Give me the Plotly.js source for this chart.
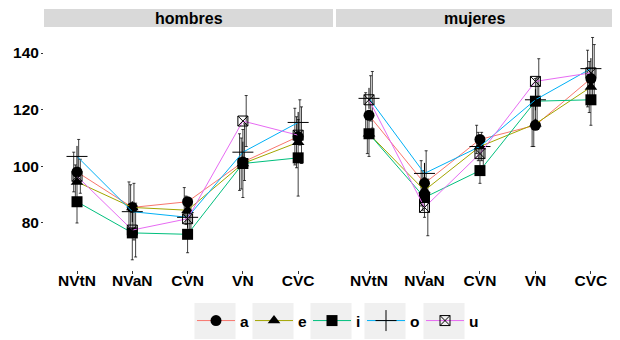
<!DOCTYPE html>
<html>
<head>
<meta charset="utf-8">
<script src="https://cdn.plot.ly/plotly-3.0.1.min.js"></script>
<style>
  html, body { margin: 0; padding: 0; background: #ffffff; }
  #chart { width: 620px; height: 340px; }
</style>
</head>
<body>
<div id="chart"></div>
<script>
// Contexts on the x axis and the two facets
const categories = ["NVtN", "NVaN", "CVN", "VN", "CVC"];
const facets = ["hombres", "mujeres"];
const vowels = ["a", "e", "i", "o", "u"];

// Mean values per vowel (hombres)
const hombres_a = [98, 85.5, 87.5, 101.5, 110.5];
const hombres_e = [94.5, 85.5, 84.5, 101, 108.5];
const hombres_i = [87.5, 76.5, 76, 101, 103];
const hombres_o = [103.5, 84, 82, 105, 115.5];
const hombres_u = [96.5, 77.5, 81.5, 116, 111];

// Error half-widths per vowel (hombres)
const hombres_a_err = [7, 9, 5, 10, 10];
const hombres_e_err = [6, 8, 5, 9, 9];
const hombres_i_err = [7.5, 9.5, 6.5, 12, 13.5];
const hombres_o_err = [6, 10, 6, 10, 8];
const hombres_u_err = [6, 9.5, 5, 9, 10];

// Mean values per vowel (mujeres)
const mujeres_a = [118, 94, 109.5, 114.5, 131];
const mujeres_e = [111.5, 91.5, 107, 115, 128];
const mujeres_i = [111.5, 89, 98.5, 123, 123.5];
const mujeres_o = [124, 97.5, 107, 123.5, 134.5];
const mujeres_u = [123.5, 85.5, 104.5, 130, 133];

// Error half-widths per vowel (mujeres)
const mujeres_a_err = [8, 8, 5, 7.5, 10];
const mujeres_e_err = [7, 7, 5, 8, 9];
const mujeres_i_err = [8, 7, 4.5, 8, 9];
const mujeres_o_err = [8, 8, 5, 8, 11];
const mujeres_u_err = [10, 10, 5, 8, 10];

const yTicks = [80, 100, 120, 140];

const means = {
  hombres: [hombres_a, hombres_e, hombres_i, hombres_o, hombres_u],
  mujeres: [mujeres_a, mujeres_e, mujeres_i, mujeres_o, mujeres_u]
};
const errs = {
  hombres: [hombres_a_err, hombres_e_err, hombres_i_err, hombres_o_err, hombres_u_err],
  mujeres: [mujeres_a_err, mujeres_e_err, mujeres_i_err, mujeres_o_err, mujeres_u_err]
};

const colors = ["#F8766D", "#A3A500", "#00BF7D", "#00B0F6", "#E76BF3"];
const markerStyle = [
  { symbol: "circle", size: 11, color: "#000000", line: { width: 0 } },
  { symbol: "triangle-up", size: 11, color: "#000000", line: { width: 0 } },
  { symbol: "square", size: 11, color: "#000000", line: { width: 0 } },
  { symbol: "cross-thin", size: 15, color: "#000000", line: { width: 1, color: "#000000" } },
  { symbol: "square-x-open", size: 10, color: "#000000", line: { width: 1, color: "#000000" } }
];
const dodge = [-0.06, -0.03, 0, 0.03, 0.06];
const xPos = categories.map((c, i) => i + 1);
const legendIds = ["legend", "legend2", "legend3", "legend4", "legend5"];

const traces = [];
facets.forEach((f, fi) => {
  const xa = fi === 0 ? "x" : "x2";
  const ya = fi === 0 ? "y" : "y2";
  // error bars, slightly dodged per vowel
  vowels.forEach((v, vi) => {
    traces.push({
      type: "scatter", mode: "markers", xaxis: xa, yaxis: ya,
      x: xPos.map(x => x + dodge[vi]), y: means[f][vi],
      marker: { opacity: 0, size: 1 },
      error_y: { type: "data", array: errs[f][vi], visible: true,
                 color: "rgba(0,0,0,0.75)", thickness: 1, width: 1.5 },
      showlegend: false, hoverinfo: "skip"
    });
  });
});
facets.forEach((f, fi) => {
  const xa = fi === 0 ? "x" : "x2";
  const ya = fi === 0 ? "y" : "y2";
  vowels.forEach((v, vi) => {
    traces.push({
      type: "scatter", mode: "lines+markers", xaxis: xa, yaxis: ya,
      x: xPos, y: means[f][vi], name: v, legendgroup: v, legend: legendIds[vi],
      line: { color: colors[vi], width: 1 },
      marker: markerStyle[vi],
      showlegend: fi === 0
    });
  });
});

const W = 620, H = 340;
const px = v => v / W;
const py = v => 1 - v / H;
const panelTop = 27, panelBottom = 270;
const panels = [[44, 333], [336, 612]];

const font = { family: "Liberation Sans, Arial, sans-serif", size: 15.5, color: "#000000", weight: "bold" };

const xAxisBase = {
  tickvals: xPos, ticktext: categories, showgrid: false, zeroline: false, showline: false,
  ticks: "outside", ticklen: 3, tickcolor: "#333333", tickwidth: 1,
  tickfont: font, ticklabelstandoff: -7
};
const yAxisBase = {
  range: [63.4, 149.2], tickvals: yTicks, showgrid: false, zeroline: false, showline: false,
  ticks: "outside", ticklen: 2, tickcolor: "#333333", tickwidth: 1, tickfont: font,
  ticklabelstandoff: -1,
  domain: [py(panelBottom), py(panelTop)]
};

const shapes = [];
const annotations = [];
panels.forEach((p, i) => {
  shapes.push({ type: "rect", xref: "paper", yref: "paper", x0: px(p[0]), x1: px(p[1]),
                y0: py(27), y1: py(9), fillcolor: "#D9D9D9", line: { width: 0 }, layer: "below" });
  annotations.push({ xref: "paper", yref: "paper", x: px((p[0] + p[1]) / 2), y: py(18),
                     text: facets[i], showarrow: false, font: { ...font, size: 16 },
                     xanchor: "center", yanchor: "middle" });
});

// one legend per key, each with a light grey key background
const keyCentres = [215, 273, 331, 385, 444];
const layout = {
  width: W, height: H,
  margin: { l: 0, r: 0, t: 0, b: 0 },
  paper_bgcolor: "#ffffff", plot_bgcolor: "rgba(0,0,0,0)",
  font: font,
  xaxis: { ...xAxisBase, domain: [px(panels[0][0]), px(panels[0][1])], range: [0.403, 5.63], anchor: "y" },
  xaxis2: { ...xAxisBase, domain: [px(panels[1][0]), px(panels[1][1])], range: [0.405, 5.38], anchor: "y2" },
  yaxis: { ...yAxisBase, anchor: "x" },
  yaxis2: { ...yAxisBase, anchor: "x2", showticklabels: false, ticks: "" },
  showlegend: true,
  shapes: shapes,
  annotations: annotations
};
keyCentres.forEach((c, i) => {
  shapes.push({ type: "rect", xref: "paper", yref: "paper", x0: px(c - 20.5), x1: px(c + 20.5),
                y0: py(339), y1: py(303), fillcolor: "#F0F0F0", line: { width: 0 }, layer: "below" });
  layout[legendIds[i]] = {
    orientation: "h", x: px(c - 23), xanchor: "left", y: py(321), yanchor: "middle",
    font: font, bgcolor: "rgba(0,0,0,0)", itemwidth: 38
  };
});

Plotly.newPlot("chart", traces, layout, { staticPlot: true, displayModeBar: false });
</script>
</body>
</html>
